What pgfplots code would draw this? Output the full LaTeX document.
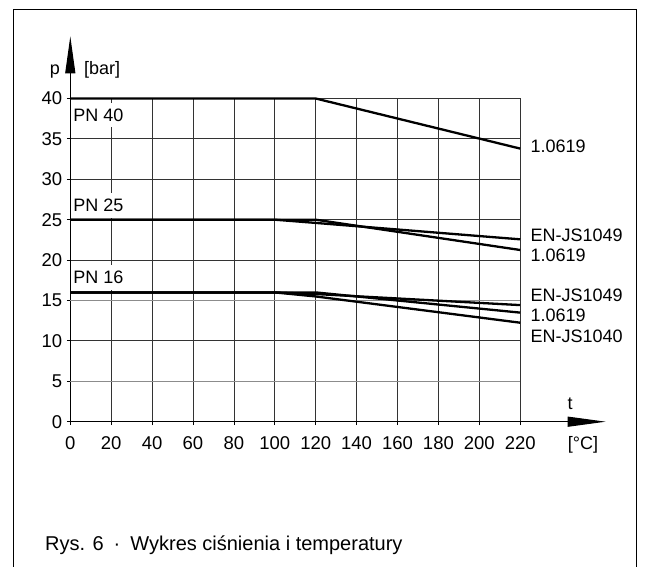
\documentclass[border=0pt]{standalone}
\usepackage{fontspec}
\setmainfont{Liberation Sans}
\usepackage{pgfplots}
\pgfplotsset{compat=1.18}
\usetikzlibrary{arrows.meta}
\newcommand\f{\fontsize{18.5}{22}\selectfont}
\newcommand\g{\fontsize{18}{22}\selectfont}
\begin{document}
\begin{tikzpicture}[font=\g]
\path[use as bounding box] (-70.3pt,-145.3pt) rectangle (574.7pt,421.7pt);
\draw[line width=1pt] (-57pt,-150pt) -- (-57pt,411.7pt) -- (566.4pt,411.7pt) -- (566.4pt,-150pt);
\begin{axis}[
  at={(0pt,0pt)}, anchor=origin,
  x=2.045pt, y=8.08pt,
  xmin=0, xmax=220, ymin=0, ymax=40,
  axis lines=left,
  x axis line style={-{Triangle[length=38pt,width=10pt]}, shorten >=-85.5pt, line width=1.1pt},
  y axis line style={-{Triangle[length=37pt,width=10pt]}, shorten >=-62.2pt, line width=1.1pt},
  xtick={0,20,...,220},
  ytick={0,10,20,25,30,35,40},
  extra y ticks={5,15},
  extra y tick style={ymajorgrids=true, major grid style={black!45, line width=0.9pt}},
  grid=major,
  major grid style={black!80, line width=0.8pt},
  tick align=outside,
  major tick length=3.5pt,
  tick style={black, line width=0.8pt},
  xticklabel style={anchor=north, inner sep=0pt, yshift=-11pt},
  yticklabel style={anchor=east, inner sep=0pt, xshift=-4.5pt},
  tick label style={font=\f},
  /pgf/number format/assume math mode=true,
  clip=false,
]
% PN 40
\addplot[black, line width=2.3pt, no marks] coordinates {(0,40) (120,40) (220,33.8)};
% PN 25
\addplot[black, line width=2.3pt, no marks] coordinates {(0,25) (100,25) (120,24.6) (220,22.57)};
\addplot[black, line width=2.3pt, no marks] coordinates {(0,25) (120,25) (220,21.25)};
% PN 16
\addplot[black, line width=2.3pt, no marks] coordinates {(0,16) (100,16) (120,15.8) (220,14.43)};
\addplot[black, line width=2.3pt, no marks] coordinates {(0,16) (120,16) (220,13.5)};
\addplot[black, line width=2.3pt, no marks] coordinates {(0,16) (100,16) (120,15.5) (220,12.25)};

\node[anchor=west, fill=white, inner xsep=1pt, inner ysep=6pt] at (axis cs:0.9,37.96) {PN 40};
\node[anchor=west, fill=white, inner xsep=1pt, inner ysep=6pt] at (axis cs:0.9,26.8) {PN 25};
\node[anchor=west, fill=white, inner xsep=1pt, inner ysep=6pt] at (axis cs:0.9,17.87) {PN 16};

\node[anchor=west, inner sep=0pt] at (axis cs:225,34.03) {1.0619};
\node[anchor=west, inner sep=0pt] at (axis cs:225,23.1) {EN-JS1049};
\node[anchor=west, inner sep=0pt] at (axis cs:225,20.55) {1.0619};
\node[anchor=west, inner sep=0pt] at (axis cs:225,15.68) {EN-JS1049};
\node[anchor=west, inner sep=0pt] at (axis cs:225,13.2) {1.0619};
\node[anchor=west, inner sep=0pt] at (axis cs:225,10.52) {EN-JS1040};

\node[anchor=base, inner sep=0pt] at (axis cs:-7.5,43.0) {p};
\node[anchor=base west, inner sep=0pt] at (axis cs:6.7,43.0) {[bar]};
\node[anchor=base, inner sep=0pt] at (axis cs:244.4,1.57) {t};
\node[anchor=base, inner sep=0pt] at (axis cs:250.7,-3.5) {[°C]};
\end{axis}
\node[anchor=west, inner sep=0pt, font=\fontsize{20}{24}\selectfont] at (-25.3pt,-123.6pt) {Rys. 6\enspace·\enspace Wykres ciśnienia i temperatury};
\end{tikzpicture}
\end{document}
